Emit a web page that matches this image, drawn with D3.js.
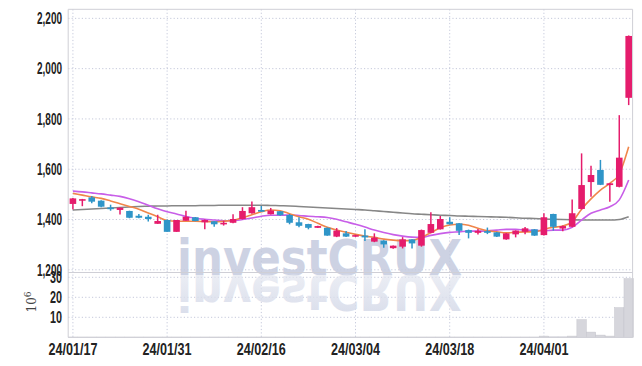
<!DOCTYPE html>
<html><head><meta charset="utf-8">
<script src="https://cdn.jsdelivr.net/npm/d3@7"></script>
<style>body{margin:0;background:#fff}svg{display:block}</style>
</head><body><svg id="c" width="642" height="366"></svg>
<script>
const dates = ["24/01/17","24/01/18","24/01/19","24/01/22","24/01/23","24/01/24","24/01/25","24/01/26","24/01/29","24/01/30",
"24/01/31","24/02/01","24/02/02","24/02/05","24/02/06","24/02/07","24/02/08","24/02/13","24/02/14","24/02/15",
"24/02/16","24/02/19","24/02/20","24/02/21","24/02/22","24/02/23","24/02/26","24/02/27","24/02/28","24/02/29",
"24/03/04","24/03/05","24/03/06","24/03/07","24/03/08","24/03/11","24/03/12","24/03/13","24/03/14","24/03/15",
"24/03/18","24/03/19","24/03/20","24/03/21","24/03/22","24/03/25","24/03/26","24/03/27","24/03/28","24/03/29",
"24/04/01","24/04/02","24/04/03","24/04/04","24/04/05","24/04/08","24/04/09","24/04/11","24/04/12","24/04/15"];
const openP  = [1462,1475,1488,1475,1448,1438,1434,1415,1411,1383,1398,1351,1395,1409,1389,1393,1381,1387,1402,1425,
1438,1421,1433,1418,1389,1382,1367,1367,1332,1345,1332,1336,1312,1316,1286,1292,1321,1296,1347,1361,
1391,1385,1358,1347,1354,1349,1321,1341,1351,1361,1338,1422,1364,1371,1442,1549,1597,1537,1530,1884];
const highP  = [1486,1482,1494,1477,1459,1448,1435,1422,1419,1419,1400,1398,1435,1410,1400,1394,1395,1421,1449,1472,
1454,1446,1434,1422,1409,1383,1375,1368,1366,1354,1340,1361,1345,1318,1297,1330,1322,1360,1429,1414,
1409,1386,1360,1362,1368,1350,1346,1357,1370,1362,1425,1423,1376,1480,1663,1614,1637,1545,1815,2132];
const lowP   = [1440,1453,1465,1449,1435,1420,1405,1405,1392,1383,1351,1351,1395,1393,1361,1371,1376,1385,1400,1423,
1430,1420,1415,1381,1369,1361,1366,1335,1330,1330,1331,1315,1310,1288,1284,1285,1285,1292,1345,1360,
1380,1338,1325,1340,1342,1330,1320,1329,1341,1335,1336,1356,1353,1369,1440,1491,1537,1471,1528,1855];
const closeP = [1484,1481,1471,1451,1441,1447,1407,1407,1402,1394,1351,1398,1411,1394,1398,1381,1387,1402,1434,1449,
1431,1436,1417,1387,1375,1367,1374,1336,1356,1332,1338,1329,1328,1301,1296,1321,1305,1358,1382,1402,
1381,1355,1347,1355,1347,1332,1345,1356,1365,1336,1409,1371,1374,1425,1537,1577,1538,1544,1646,2130];
const volume = [0.1,0.1,0.1,0.1,0.1,0.1,0.1,0.1,0.1,0.1,0.1,0.1,0.1,0.1,0.1,0.1,0.1,0.1,0.1,0.1,
0.1,0.1,0.1,0.1,0.1,0.1,0.1,0.1,0.1,0.1,0.1,0.1,0.1,0.1,0.1,0.1,0.1,0.1,0.1,0.1,
0.1,0.1,0.1,0.1,0.1,0.1,0.1,0.1,0.1,0.1,0.6,0.2,0.2,0.6,8.8,2.6,1.1,0.6,14.8,29.3];
const maShort = [1504,1497,1490,1484,1474,1463,1452,1441,1426,1411,1396,1393,1393,1393,1392,1391,1393,1397,1407,1419,
1431,1438,1435,1423,1411,1401,1385,1369,1358,1349,1341,1334,1329,1322,1318,1316,1317,1329,1348,1367,
1378,1381,1377,1365,1355,1351,1347,1349,1351,1351,1361,1369,1374,1391,1441,1482,1517,1544,1581,1689];
const maMid = [1513,1510,1506,1502,1497,1492,1483,1471,1457,1443,1431,1422,1412,1405,1401,1398,1395,1395,1400,1406,
1413,1417,1417,1418,1416,1413,1411,1408,1401,1391,1381,1370,1358,1348,1340,1334,1330,1329,1337,1344,
1349,1351,1354,1354,1355,1358,1361,1361,1358,1357,1355,1358,1358,1369,1398,1425,1438,1451,1478,1557];
const maLong = [1438,1440,1442,1444,1446,1448,1450,1452,1453,1454,1454,1455,1455,1455,1456,1456,1457,1457,1457,1457,
1457,1456,1455,1454,1452,1450,1448,1446,1444,1442,1440,1438,1435,1432,1429,1426,1423,1421,1419,1417,
1416,1414,1413,1412,1411,1410,1409,1407,1405,1404,1402,1401,1400,1399,1398,1398,1398,1398,1400,1411];
const priceTicks = [1200,1400,1600,1800,2000,2200];
const volTicks = [10,20,30];
const dateTicks = ["24/01/17","24/01/31","24/02/16","24/03/04","24/03/18","24/04/01"];

const svg = d3.select("#c");
const L = 68.2, R = 632.6, T = 9.3, MB = 272.5, VB = 337.3;
const x = d3.scaleBand().domain(d3.range(dates.length)).range([L, 633.4]).padding(0);
const cx = i => x(i) + x.bandwidth()/2;
const y = d3.scaleLinear().domain([1189.3, 2236]).range([MB, T]);
const yv = d3.scaleLinear().domain([0, 32.5]).range([VB, 272.3]);

const defs = svg.append("defs");
const gr = defs.append("linearGradient").attr("id","fade").attr("x1",0).attr("x2",0).attr("y1",0).attr("y2",1);
gr.append("stop").attr("offset","0%").attr("stop-color","#d4d9e8").attr("stop-opacity",0.95);
gr.append("stop").attr("offset","100%").attr("stop-color","#e4e7f0").attr("stop-opacity",0.6);

// grid
const grid = svg.append("g").attr("stroke","#c5c9db").attr("stroke-dasharray","1.2,2.2").attr("stroke-width",1);
priceTicks.forEach(t => grid.append("line").attr("x1",L).attr("x2",R).attr("y1",y(t)).attr("y2",y(t)));
volTicks.forEach(t => grid.append("line").attr("x1",L).attr("x2",R).attr("y1",yv(t)).attr("y2",yv(t)));
dateTicks.forEach(d => { const xx = cx(dates.indexOf(d)); grid.append("line").attr("x1",xx).attr("x2",xx).attr("y1",T).attr("y2",VB); });

// watermark
const wm = svg.append("g").attr("font-family","DejaVu Sans, sans-serif").attr("font-weight","bold").attr("font-size",50);
wm.append("text").attr("x",177).attr("y",275).attr("textLength",285).attr("lengthAdjust","spacingAndGlyphs")
  .attr("fill","#c5cbdf").attr("opacity",0.85)
  .text("investCRUX");
wm.append("text").attr("transform","translate(0,550) scale(1,-1)").attr("x",177).attr("y",275).attr("textLength",285).attr("lengthAdjust","spacingAndGlyphs")
  .attr("fill","url(#fade)")
  .text("investCRUX");

// volume bars
svg.append("g").selectAll("rect").data(volume).join("rect")
  .attr("x",(d,i)=>x(i)).attr("width",x.bandwidth()).attr("y",d=>yv(d)).attr("height",d=>VB-yv(d))
  .attr("fill","#d6d6dc").attr("stroke","#c4c4cc").attr("stroke-width",0.5);

// MA lines
const line = arr => d3.line().x((d,i)=>cx(i)).y(d=>y(d)).curve(d3.curveMonotoneX)(arr);
svg.append("path").attr("d",line(maLong)).attr("fill","none").attr("stroke","#7a7a7a").attr("stroke-width",1.6).attr("opacity",0.9);
svg.append("path").attr("d",line(maMid)).attr("fill","none").attr("stroke","#c85ee8").attr("stroke-width",1.6);
svg.append("path").attr("d",line(maShort)).attr("fill","none").attr("stroke","#f0864a").attr("stroke-width",1.6);

// candles
const up = "#e51c6c", down = "#2f95c8";
const bw = 6.6;
const cg = svg.append("g");
dates.forEach((d,i)=>{
  const col = closeP[i] >= openP[i] ? up : down;
  cg.append("line").attr("x1",cx(i)).attr("x2",cx(i)).attr("y1",y(highP[i])).attr("y2",y(lowP[i]))
    .attr("stroke",col).attr("stroke-width",1.5);
  const top = y(Math.max(openP[i],closeP[i])), bot = y(Math.min(openP[i],closeP[i]));
  cg.append("rect").attr("x",cx(i)-bw/2).attr("width",bw).attr("y",top).attr("height",Math.max(1.6,bot-top))
    .attr("fill",col);
});

// frame
const fr = svg.append("g").attr("stroke","#cfcfd6").attr("stroke-width",1).attr("fill","none");
fr.append("line").attr("x1",L).attr("x2",R).attr("y1",T).attr("y2",T);
fr.append("line").attr("x1",R).attr("x2",R).attr("y1",T).attr("y2",VB);
fr.append("line").attr("x1",L).attr("x2",L).attr("y1",T).attr("y2",VB);
fr.append("line").attr("x1",L).attr("x2",R).attr("y1",MB).attr("y2",MB);
fr.append("line").attr("x1",L).attr("x2",R).attr("y1",VB).attr("y2",VB);

// axes labels
const lab = svg.append("g").attr("font-family","Liberation Sans Narrow, Arial Narrow, sans-serif").attr("font-weight","bold").attr("font-size",16).attr("fill","#222");
const fmt = d3.format(",");
priceTicks.forEach(t => lab.append("text").attr("x",62).attr("y",y(t)).attr("dy","0.36em").attr("text-anchor","end")
  .attr("textLength",25).attr("lengthAdjust","spacingAndGlyphs").text(fmt(t)));
volTicks.forEach(t => lab.append("text").attr("x",62).attr("y",yv(t)).attr("dy","0.36em").attr("text-anchor","end")
  .attr("textLength",12).attr("lengthAdjust","spacingAndGlyphs").text(t));
dateTicks.forEach(d => lab.append("text").attr("x",cx(dates.indexOf(d))).attr("y",349).attr("dy","0.36em").attr("text-anchor","middle")
  .attr("textLength",49).attr("lengthAdjust","spacingAndGlyphs").text(d));
const u = svg.append("text").attr("transform","translate(36,302) rotate(-90)").attr("font-family","DejaVu Serif, serif").attr("font-size",12).attr("fill","#444").attr("text-anchor","middle");
u.append("tspan").text("10");
u.append("tspan").attr("baseline-shift","super").attr("font-size",9).text("6");
</script></body></html>
